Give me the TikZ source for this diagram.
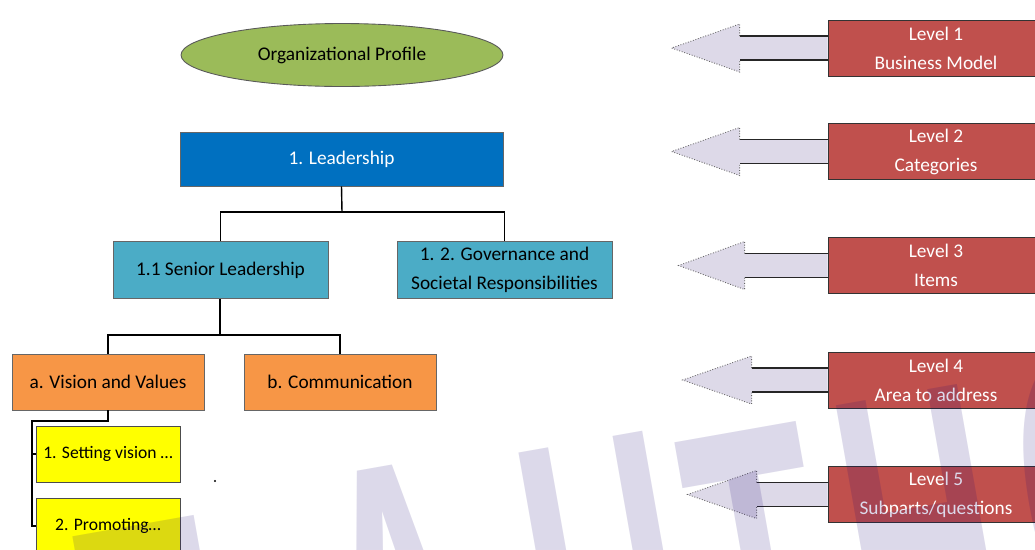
\documentclass[tikz,border=0pt]{standalone}
\usepackage{fontspec}
\setmainfont{Carlito}
\newfontfamily\wmfont{Liberation Sans}
\usetikzlibrary{shapes.geometric,calc}

\definecolor{profgreen}{HTML}{9BBB59}
\definecolor{catblue}{HTML}{0070C0}
\definecolor{itemcyan}{HTML}{4BACC6}
\definecolor{areaorange}{HTML}{F79646}
\definecolor{subyellow}{HTML}{FFFF00}
\definecolor{levelred}{HTML}{C0504D}
\definecolor{arrowlav}{RGB}{221,217,232}
\definecolor{wmink}{RGB}{24,0,115}

% block arrow pointing left from a level box: #1 box, #2 tip, #3 head length
\newcommand{\levelarrow}[3]{%
  \fill[arrowlav] ($(#1.west)+(0,-12)$) -- ($(#2)+(#3,-12)$) -- ($(#2)+(#3,-24)$) -- (#2)
    -- ($(#2)+(#3,24)$) -- ($(#2)+(#3,12)$) -- ($(#1.west)+(0,12)$) -- cycle;
  \draw[shaftline] ($(#1.west)+(0,-12)$) -- ($(#2)+(#3,-12)$);
  \draw[shaftline] ($(#1.west)+(0,12)$) -- ($(#2)+(#3,12)$);
  \draw[headline] ($(#2)+(#3,-12)$) -- ($(#2)+(#3,-24)$) -- (#2) -- ($(#2)+(#3,24)$) -- ($(#2)+(#3,12)$);
}

\begin{document}
\begin{tikzpicture}[x=0.02cm,y=-0.02cm,
  box/.style={rectangle, draw=black!60, line width=0.5pt, inner sep=0pt, align=center,
    font=\fontsize{11}{16.5}\selectfont},
  catbox/.style={box, fill=catblue, text=white, minimum width=6.46cm, minimum height=1.08cm},
  itembox/.style={box, fill=itemcyan, minimum width=4.3cm, minimum height=1.14cm},
  areabox/.style={box, fill=areaorange, minimum width=3.84cm, minimum height=1.12cm},
  subbox/.style={box, fill=subyellow, draw=black!70, minimum width=2.88cm, minimum height=1.12cm,
    font=\fontsize{10}{12}\selectfont},
  levelbox/.style={box, fill=levelred, draw=black!80, text=white, minimum width=4.32cm, minimum height=1.12cm},
  link/.style={draw=black, line width=0.8pt},
  shaftline/.style={draw=black!85, line width=0.6pt},
  headline/.style={draw=black!60, line width=0.5pt, densely dotted},
  wm/.style={text=wmink, text opacity=0.15, inner sep=0pt, rotate=10,
    font=\wmfont\bfseries\fontsize{238}{238}\selectfont}]

\useasboundingbox (0,0) rectangle (1035,549);
\fill[white] (0,0) rectangle (1035,549);
\clip (0,0) rectangle (1035,549);

% hierarchy
\node[ellipse, draw=black!65, line width=0.5pt, fill=profgreen, inner sep=0pt,
  minimum width=6.44cm, minimum height=1.26cm, font=\fontsize{11}{13}\selectfont]
  (prof) at (342,55) {Organizational Profile};
\node[catbox] (lead) at (341.5,159) {1. Leadership};
\node[itembox] (senior) at (220.5,270) {1.1 Senior Leadership};
\node[itembox] (gov) at (504.5,270) {1. 2. Governance and\\Societal Responsibilities};
\node[areabox] (vis) at (108,382) {a. Vision and Values};
\node[areabox] (comm) at (340,382) {b. Communication};
\node[subbox] (set) at (108,454) {1. Setting vision \dots};
\node[subbox] (prom) at (108,526) {2. Promoting\dots};
\node[circle, fill=black, inner sep=0pt, minimum size=1.2pt] (dot) at (215,481) {};

% connectors
\coordinate (j1) at (342,212);
\coordinate (j2) at (220,335);
\coordinate (j3) at (108,421);
\coordinate (bx) at (32,421);
\draw[link] (lead.south) -- (j1);
\draw[link] (senior.north) |- (j1) -| (gov.north);
\draw[link] (senior.south -| j2) -- (j2);
\draw[link] (vis.north) |- (j2) -| (comm.north);
\draw[link] (vis.south) -- (j3) -- (bx) |- (set.west);
\draw[link] (bx) |- (prom.west);

% level boxes
\node[levelbox] (L1) at (936,48) {Level 1\\Business Model};
\node[levelbox] (L2) at (936,151.5) {Level 2\\Categories};
\node[levelbox] (L3) at (936,265.5) {Level 3\\Items};
\node[levelbox] (L4) at (936,380) {Level 4\\Area to address};
\node[levelbox] (L5) at (936,494.5) {Level 5\\Subparts/questions};

\coordinate (t1) at ($(L1.west)+(-156,0)$);
\coordinate (t2) at ($(L2.west)+(-156,0)$);
\coordinate (t3) at ($(L3.west)+(-149,0)$);
\coordinate (t4) at ($(L4.west)+(-145,0)$);
\coordinate (t5) at ($(L5.west)+(-140,0)$);
\levelarrow{L1}{t1}{68}
\levelarrow{L2}{t2}{68}
\levelarrow{L3}{t3}{66}
\levelarrow{L4}{t4}{69}
\levelarrow{L5}{t5}{69}

% watermark lettering
\node[wm, anchor=north west] (w1) at (70,537) {\scalebox{0.5}[1]{T}};
\node[wm, anchor=north] (w2) at (375,468) {\scalebox{0.5}[1]{A}};
\node[wm, anchor=north west] (w3) at (506,455) {\scalebox{0.5}[1]{U}};
\node[wm, anchor=north west] (w4) at (672,443) {\scalebox{0.5}[1]{T}};
\node[wm, anchor=north west] (w5) at (822,408) {\scalebox{0.5}[1]{H}};
\node[wm, anchor=north west] (w6) at (995,362) {\scalebox{0.5}[1]{O}};
\end{tikzpicture}
\end{document}
